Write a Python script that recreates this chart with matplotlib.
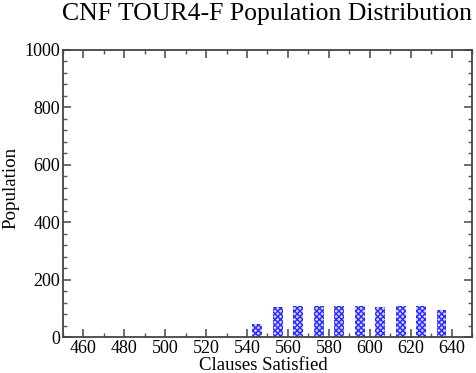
import matplotlib
matplotlib.use("Agg")
import matplotlib.pyplot as plt
from matplotlib.ticker import MultipleLocator

plt.rcParams['font.family'] = ['Liberation Serif', 'DejaVu Serif']
plt.rcParams['hatch.linewidth'] = 1.0

clauses = [545, 555, 565, 575, 585, 595, 605, 615, 625, 635]
population = [44, 103, 107, 107, 107, 107, 103, 107, 107, 93]

title = "CNF TOUR4-F Population Distribution"
xlabel = "Clauses Satisfied"
ylabel = "Population"

fig = plt.figure(figsize=(4.76, 3.73), dpi=100)
ax = fig.add_axes([0.1317, 0.0965, 0.8605, 0.7695])

ax.bar(clauses, population, width=4.8, facecolor='#d0d0ff', edgecolor='#2a2aff',
       hatch='xxxxxx', linewidth=0)

ax.set_xlim(450, 650)
ax.set_ylim(0, 1000)
ax.xaxis.set_major_locator(MultipleLocator(20))
ax.xaxis.set_minor_locator(MultipleLocator(10))
ax.yaxis.set_major_locator(MultipleLocator(200))
ax.yaxis.set_minor_locator(MultipleLocator(40))
ax.tick_params(which='both', direction='in', top=True, right=True, color='#555555')
ax.tick_params(which='major', length=6, width=1.2, labelsize=13, pad=2)
ax.tick_params(which='minor', length=3, width=1.0)
for s in ax.spines.values():
    s.set_color('#444444')
    s.set_linewidth(1.3)

ax.set_xlabel(xlabel, fontsize=13.5)
ax.set_ylabel(ylabel, fontsize=13.7)
ax.xaxis.set_label_coords(0.489, -0.070)
ax.yaxis.set_label_coords(-0.105, 0.52)
fig.text(0.561, 0.963, title, ha='center', va='center', fontsize=18.5)

fig.savefig("out.png", dpi=100)
